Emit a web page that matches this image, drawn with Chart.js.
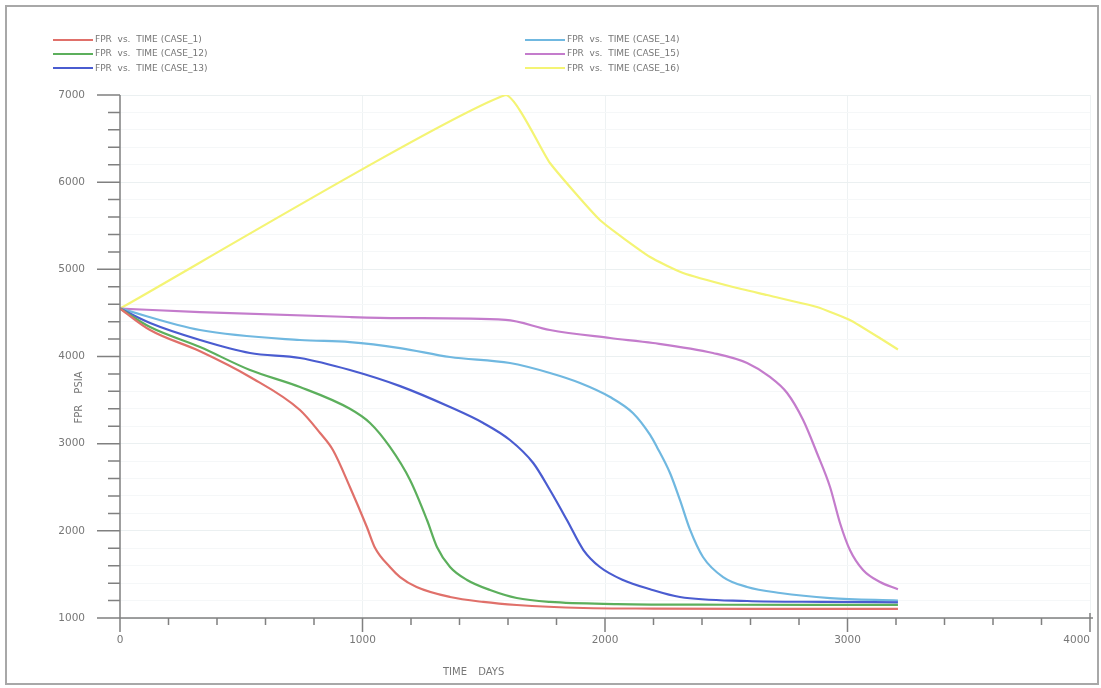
<!DOCTYPE html>
<html><head><meta charset="utf-8">
<script src="https://cdn.jsdelivr.net/npm/chart.js@4.4.1/dist/chart.umd.min.js"></script>
<style>
body{margin:0;background:#fff;width:1101px;height:688px;overflow:hidden;position:relative;font-family:"DejaVu Sans",sans-serif;}
#frame{position:absolute;left:5px;top:5px;width:1090px;height:676px;border:2px solid #a8a8a8;box-sizing:content-box;z-index:2;pointer-events:none;}
#wrap{position:absolute;left:0;top:0;width:1101px;height:688px;overflow:hidden;}
.leg{position:absolute;font-size:9px;color:#777;white-space:nowrap;line-height:10px;}
.leg span.l{display:inline-block;width:40px;height:2px;vertical-align:middle;margin-right:2px;}
.ax{position:absolute;font-size:10px;color:#777;white-space:nowrap;}
#lastx{position:absolute;font-size:10.5px;color:#777;white-space:nowrap;top:633px;right:11px;}
</style></head><body>
<div id="frame"></div>
<div id="wrap"><canvas id="c" width="1140" height="688"></canvas></div>
<div id="legend"></div>
<div id="lastx"></div>
<div class="ax" style="left:443px;top:666px;word-spacing:8px;">TIME DAYS</div>
<div class="ax" style="left:48px;top:392px;transform:rotate(-90deg);transform-origin:center;word-spacing:8px;width:60px;text-align:center;">FPR PSIA</div>
<script>
const seriesNames = ["FPR  vs.  TIME (CASE_1)","FPR  vs.  TIME (CASE_12)","FPR  vs.  TIME (CASE_13)","FPR  vs.  TIME (CASE_14)","FPR  vs.  TIME (CASE_15)","FPR  vs.  TIME (CASE_16)"];
const xTicks = [0,1000,2000,3000,4000];
const yTicks = [1000,2000,3000,4000,5000,6000,7000];

const case1T  = [0,124,330,536,742,825,878,948,1018,1052,1113,1155,1223,1361,1498,1636,1911,2200,2600,3000,3208];
const case1P  = [4550,4304,4060,3765,3386,3122,2927,2503,2044,1803,1585,1470,1356,1241,1184,1149,1115,1108,1105,1105,1105];
const case12T = [0,124,330,536,742,948,1031,1113,1196,1266,1307,1361,1431,1526,1636,1773,2049,2500,3000,3208];
const case12P = [4550,4338,4109,3845,3650,3400,3237,2962,2583,2124,1815,1585,1436,1321,1229,1184,1160,1152,1150,1150];
const case13T = [0,124,330,536,742,948,1155,1361,1498,1608,1704,1773,1843,1911,1979,2074,2186,2309,2586,2900,3208];
const case13P = [4550,4384,4189,4040,3983,3845,3660,3420,3237,3042,2778,2468,2124,1780,1585,1436,1330,1241,1195,1185,1180];
const case14T = [0,330,742,948,1155,1361,1608,1773,1897,2021,2115,2186,2214,2268,2309,2351,2404,2487,2586,2722,2928,3208];
const case14P = [4550,4304,4189,4166,4097,3994,3925,3811,3696,3535,3352,3100,2962,2663,2354,2010,1700,1470,1356,1287,1229,1200];
const case15T = [0,330,948,1155,1590,1773,2021,2198,2445,2586,2680,2751,2817,2874,2928,2969,3010,3064,3134,3208];
const case15P = [4550,4510,4453,4441,4420,4304,4212,4155,4040,3925,3765,3581,3271,2893,2503,2090,1780,1551,1413,1330];
const case16T = [0,1590,1773,1979,2186,2322,2528,2668,2874,3010,3146,3208];
const case16P = [4550,7000,6220,5566,5141,4958,4797,4705,4568,4419,4189,4080];

const allT = [case1T,case12T,case13T,case14T,case15T,case16T];
const allP = [case1P,case12P,case13P,case14P,case15P,case16P];
const colors = ["#e0706a","#5caf5c","#4a5cd0","#70b8e0","#c47ccc","#f4f474"];

const datasets = allT.map((t,i)=>({
  label: seriesNames[i],
  data: t.map((x,j)=>({x:x,y:allP[i][j]})),
  borderColor: colors[i], backgroundColor: colors[i],
  borderWidth: 2.2, pointRadius: 0, fill:false,
  cubicInterpolationMode: i===5 ? 'default' : 'monotone',
  tension: i===5 ? 0.15 : 0.4,
  order: i===5?10:i
}));

// HTML legend
const leg = document.getElementById('legend');
datasets.forEach((d,i)=>{
  const col = i<3?0:1, row = i%3;
  const el = document.createElement('div');
  el.className='leg';
  el.style.left = (col===0?53:525)+'px';
  el.style.top = (34+row*14.3)+'px';
  el.innerHTML = '<span class="l" style="background:'+d.borderColor+'"></span>'+d.label.replace(/ /g,'&nbsp;');
  leg.appendChild(el);
});
document.getElementById('lastx').textContent = String(xTicks[xTicks.length-1]);

const axisPlugin = {
  id:'axisTicks',
  afterDraw(chart){
    const ctx = chart.ctx, xs = chart.scales.x, ys = chart.scales.y;
    const x0 = xs.getPixelForValue(0), y0 = ys.getPixelForValue(1000);
    ctx.save();
    ctx.strokeStyle = '#808080'; ctx.lineWidth = 1.5;
    ctx.beginPath();
    ctx.moveTo(x0, ys.getPixelForValue(7000)); ctx.lineTo(x0, y0+14);
    ctx.moveTo(x0-12, y0); ctx.lineTo(xs.getPixelForValue(4000)+3, y0);
    for(let v=1000; v<=7000; v+=200){
      const p = ys.getPixelForValue(v);
      const major = v%1000===0;
      ctx.moveTo(x0-(major?23:12), p); ctx.lineTo(x0, p);
    }
    for(let v=0; v<=4000; v+=200){
      const p = xs.getPixelForValue(v);
      const major = v%1000===0;
      ctx.moveTo(p, y0); ctx.lineTo(p, y0+(major?14:7));
    }
    const pe = xs.getPixelForValue(4000);
    ctx.moveTo(pe, y0-5); ctx.lineTo(pe, y0+12);
    ctx.stroke();
    ctx.restore();
  }
};

new Chart(document.getElementById('c'), {
  type:'line',
  data:{datasets},
  options:{
    responsive:false, animation:false,
    layout:{padding:{top:95,right:50,left:0,bottom:0}},
    plugins:{legend:{display:false}, tooltip:{enabled:false}},
    scales:{
      x:{type:'linear', min:0, max:4000,
        afterFit(s){ s.height = 70; },
        afterBuildTicks(s){ s.ticks = []; for(let v=0; v<=4000; v+=200) s.ticks.push({value:v}); },
        border:{display:false},
        grid:{drawTicks:false, color:(c)=> (c.tick && c.tick.value%1000===0 && c.tick.value>0) ? '#eef2f3' : 'rgba(0,0,0,0)'},
        ticks:{padding:16, autoSkip:false, maxRotation:0, color:'#777', font:{family:'DejaVu Sans', size:10.5},
          callback:(v)=> (xTicks.includes(v) && v<4000) ? String(v) : ''}
      },
      y:{type:'linear', min:1000, max:7000,
        afterFit(s){ s.width = 120; },
        afterBuildTicks(s){ s.ticks = []; for(let v=1000; v<=7000; v+=200) s.ticks.push({value:v}); },
        border:{display:false},
        grid:{drawTicks:false, color:(c)=> (c.tick && c.tick.value%1000===0) ? '#ebf0f1' : '#f5f7f8'},
        ticks:{padding:35, autoSkip:false, color:'#777', font:{family:'DejaVu Sans', size:10.5},
          callback:(v)=> yTicks.includes(v) ? String(v) : ''}
      }
    }
  },
  plugins:[axisPlugin]
});
</script>
</body></html>
